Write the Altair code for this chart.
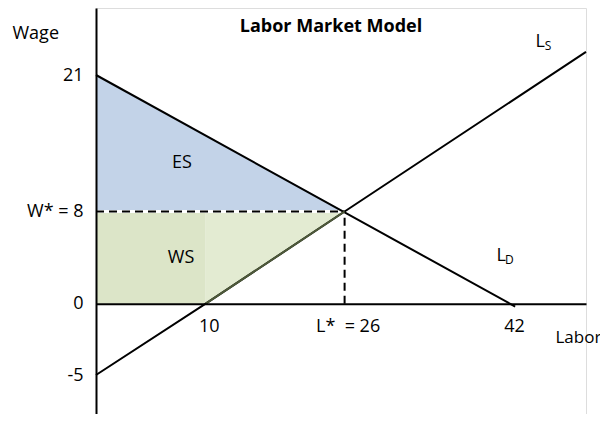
import altair as alt
import pandas as pd

FONT = "Open Sans"

# ---------------- data ----------------
labor_ticks = [10, 26, 42]
labor_tick_labels = ["10", "L*\u00a0 = 26", "42"]
wage_ticks = [-5, 0, 8, 21]
wage_tick_labels = ["-5", "0", "W* = 8", "21"]

demand_L = [0, 42.4]
demand_W = [21, -0.2]
supply_L = [0, 10, 26, 49.2]
supply_W = [-5, 0, 8, 23.2]
eq_L = 26
eq_W = 8
supply_zero_L = 10

es_L = [0, 26]
es_top = [21, 8]
es_bottom = [8, 8]

ws_tri_L = [10, 26]
ws_tri_top = [8, 8]
ws_tri_bottom = [0, 8]

ws_rect_L = [0, 10]
ws_rect_W = [0, 8]

region_labels = ["ES", "WS"]
region_L = [7.84, 7.75]
region_W = [12.6, 3.97]

curve_labels = ["L", "L"]
curve_subs = ["S", "D"]
curve_L = [44.8, 41.07]
curve_W = [24.17, 4.11]

title_text = "Labor Market Model"
title_L = 24.43
title_W = 25.6

# ---------------- scales / axes ----------------
x_scale = alt.Scale(type="linear", domain=[0, 10, 26, 42, 49.2],
                    range=[0, 109.7, 248.6, 415, 490], nice=False, zero=False)
y_scale = alt.Scale(type="linear", domain=[-7.73, -5, 0, 8, 21, 27.38],
                    range=[406, 367, 295.7, 203.5, 67, 0], nice=False, zero=False)


def label_expr(vals, labels):
    expr = "datum.label"
    for v, lab in zip(vals, labels):
        expr = f"datum.value == {v} ? '{lab}' : ({expr})"
    return expr


x_axis = alt.Axis(values=labor_ticks, labelExpr=label_expr(labor_ticks, labor_tick_labels),
                  ticks=False, grid=False, domainColor="black", domainWidth=2,
                  offset=-110.3, labelFont=FONT, labelFontSize=18, labelColor="black",
                  labelPadding=14, labelOffset=3, labelAngle=0, labelOverlap=False,
                  labelFlush=False,
                  title="Labor", titleFont=FONT, titleFontSize=17, titleFontWeight="normal",
                  titleColor="black", titleX=459, titleY=34, titleAlign="left",
                  titleBaseline="middle", titleAngle=0, zindex=2)
y_axis = alt.Axis(values=wage_ticks, labelExpr=label_expr(wage_ticks, wage_tick_labels),
                  ticks=False, grid=False, domainColor="black", domainWidth=2,
                  labelFont=FONT, labelFontSize=18, labelColor="black",
                  labelPadding=13, labelOverlap=False, labelFlush=False, labelBaseline="middle",
                  title="Wage", titleFont=FONT, titleFontSize=18, titleFontWeight="normal",
                  titleColor="black", titleX=-84, titleY=25, titleAlign="left",
                  titleBaseline="middle", titleAngle=0, zindex=2)


def X(field="L"):
    return alt.X(field, type="quantitative", scale=x_scale, axis=x_axis)


def Y(field="W"):
    return alt.Y(field, type="quantitative", scale=y_scale, axis=y_axis)


# ---------------- layers ----------------
es_df = pd.DataFrame({"L": es_L, "W": es_top, "W2": es_bottom})
es = alt.Chart(es_df).mark_area(color="#c3d3e8", opacity=1, interpolate="linear").encode(
    x=X(), y=Y(), y2="W2:Q")

ws_rect_df = pd.DataFrame({"L": [ws_rect_L[0]], "L2": [ws_rect_L[1]],
                           "W": [ws_rect_W[0]], "W2": [ws_rect_W[1]]})
ws_rect = alt.Chart(ws_rect_df).mark_rect(color="#dce5c8").encode(
    x=X(), x2="L2:Q", y=Y(), y2="W2:Q")

ws_tri_df = pd.DataFrame({"L": ws_tri_L, "W": ws_tri_top, "W2": ws_tri_bottom})
ws_tri = alt.Chart(ws_tri_df).mark_area(color="#e3ebd2", opacity=1, interpolate="linear").encode(
    x=X(), y=Y(), y2="W2:Q")

h_df = pd.DataFrame({"L": [0], "L2": [eq_L], "W": [eq_W]})
v_df = pd.DataFrame({"L": [eq_L], "W": [0], "W2": [eq_W]})
h_white = alt.Chart(h_df).mark_rule(color="white", strokeWidth=3).encode(
    x=X(), x2="L2:Q", y=Y())
h_dash = alt.Chart(h_df).mark_rule(color="black", strokeWidth=2, strokeDash=[8, 5]).encode(
    x=X(), x2="L2:Q", y=Y())
v_dash = alt.Chart(v_df).mark_rule(color="black", strokeWidth=2, strokeDash=[8, 5]).encode(
    x=X(), y=Y(), y2="W2:Q")

demand_df = pd.DataFrame({"L": demand_L, "W": demand_W})
demand = alt.Chart(demand_df).mark_line(color="black", strokeWidth=2).encode(x=X(), y=Y())

supply_df = pd.DataFrame({"L": supply_L, "W": supply_W})
supply = alt.Chart(supply_df).mark_line(color="black", strokeWidth=2).encode(x=X(), y=Y())

seg_df = supply_df[(supply_df["L"] >= supply_zero_L) & (supply_df["L"] <= eq_L)]
supply_seg = alt.Chart(seg_df).mark_line(color="#4e5a3a", strokeWidth=2).encode(x=X(), y=Y())

reg_df = pd.DataFrame({"L": region_L, "W": region_W, "t": region_labels})
regions = alt.Chart(reg_df).mark_text(font=FONT, fontSize=18, color="black",
                                      align="center", baseline="middle").encode(
    x=X(), y=Y(), text="t:N")

cur_df = pd.DataFrame({"L": curve_L, "W": curve_W, "t": curve_labels, "s": curve_subs})
curves = alt.Chart(cur_df).mark_text(font=FONT, fontSize=18, color="black",
                                     align="center", baseline="middle").encode(
    x=X(), y=Y(), text="t:N")
subs = alt.Chart(cur_df).mark_text(font=FONT, fontSize=12, color="black",
                                   align="center", baseline="middle", dx=8, dy=4).encode(
    x=X(), y=Y(), text="s:N")

title_df = pd.DataFrame({"L": [title_L], "W": [title_W], "t": [title_text]})
title = alt.Chart(title_df).mark_text(font=FONT, fontSize=18, fontWeight="bold", color="black",
                                      align="center", baseline="middle").encode(
    x=X(), y=Y(), text="t:N")

chart = alt.layer(
    es, ws_rect, ws_tri, h_white, h_dash, v_dash, demand, supply, supply_seg,
    regions, curves, subs, title
).properties(
    width=490, height=406,
    autosize=alt.AutoSizeParams(type="none"),
    padding={"left": 88, "top": 0, "right": 14, "bottom": 0},
).configure_view(stroke=None).configure(background="white")

chart.save("out.html", embed_options={"renderer": "svg", "actions": False})
